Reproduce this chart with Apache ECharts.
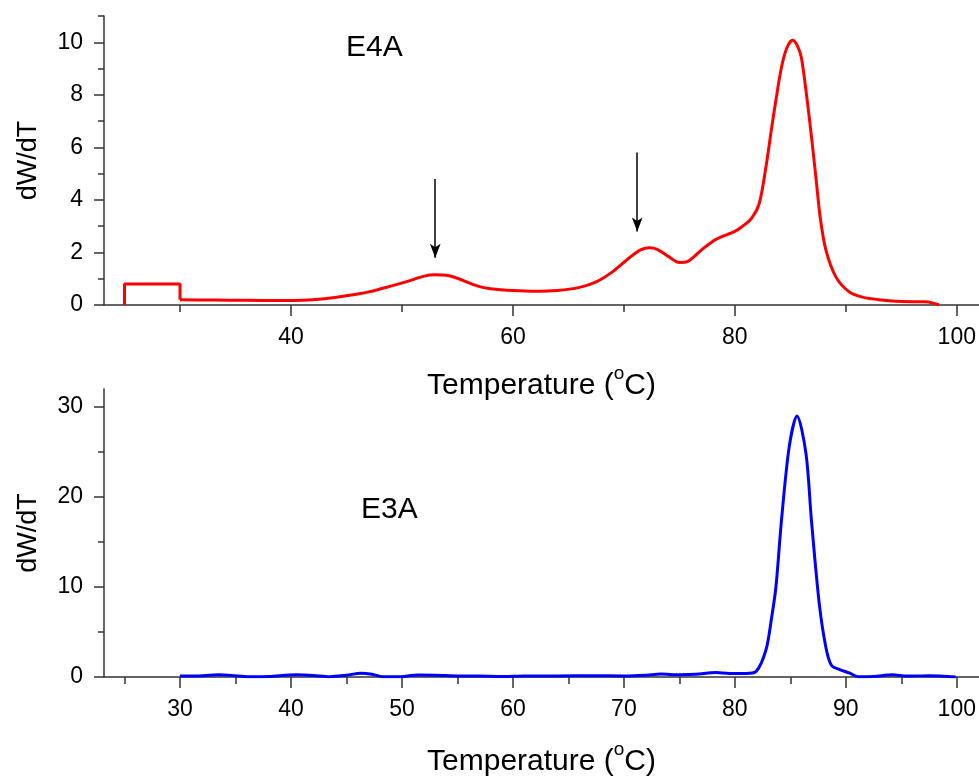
<!DOCTYPE html>
<html>
<head>
<meta charset="utf-8">
<script src="https://cdn.jsdelivr.net/npm/echarts@6/dist/echarts.min.js"></script>
<style>
  html, body { margin: 0; padding: 0; background: #fff; }
  #chart { width: 979px; height: 778px; }
</style>
</head>
<body>
<div id="chart"></div>
<script>
// E4A (top): step at start, then the smooth curve
const e4aStep = [[25, 0], [25, 0.8], [30, 0.8], [30, 0.2]]
const e4aCurve = [
  [30, 0.2], [33, 0.19], [36, 0.18], [39, 0.17], [41, 0.18], [43, 0.24], [45, 0.35],
  [47, 0.5], [49, 0.72], [50.5, 0.9], [52, 1.1], [53, 1.15], [54, 1.13], [55, 1.02],
  [56, 0.85], [57, 0.7], [58, 0.62], [60, 0.55], [62, 0.52], [64, 0.55], [66, 0.67],
  [67.5, 0.88], [69, 1.27], [70.5, 1.8], [71.5, 2.1], [72.3, 2.18], [73, 2.12],
  [74, 1.85], [75, 1.62], [75.7, 1.65], [77, 2.1], [78.3, 2.5], [80, 2.8], [80.6, 2.97],
  [81.5, 3.3], [82.2, 3.87], [82.8, 5.25], [83.3, 6.7], [83.7, 7.8], [84.2, 9.05],
  [84.7, 9.8], [85.2, 10.08], [85.6, 9.9], [86, 9.4], [86.7, 7.15], [87.3, 4.87],
  [87.7, 3.3], [88.2, 2.1], [89.1, 1.07], [90.3, 0.5], [91.5, 0.3], [93.2, 0.19],
  [95, 0.13], [97, 0.12], [97.8, 0.08], [98.4, 0]
]
// E3A (bottom)
const e3aCurve = [
  [30, 0.1], [31.5, 0.12], [33.5, 0.25], [35, 0.15], [36.5, 0.02], [38, 0.05],
  [40.5, 0.25], [42, 0.18], [43.5, 0.03], [45, 0.2], [46.3, 0.42], [47.3, 0.3],
  [48.3, 0.02], [49.5, 0.02], [51.5, 0.22], [53, 0.2], [55, 0.12], [57, 0.1], [59, 0.05],
  [61, 0.1], [64, 0.12], [67, 0.15], [70, 0.12], [72, 0.2], [73.3, 0.32], [75, 0.25],
  [76.5, 0.3], [78.3, 0.5], [79.5, 0.4], [81, 0.4], [81.9, 0.6], [82.8, 3.0], [83.3, 6.5],
  [83.7, 10], [84.2, 17.4], [84.9, 25.6], [85.6, 29.0], [86.4, 24.9], [86.9, 17.4],
  [87.6, 8.2], [88.2, 3.3], [88.7, 1.3], [89.5, 0.8], [90.3, 0.45], [91.2, 0.02],
  [92.5, 0.05], [94.2, 0.25], [95.5, 0.1], [97.5, 0.15], [99.9, 0]
]
// arrows on E4A: [x, yStart, yEnd]
const e4aArrows = [[53, 4.8, 1.8], [71.2, 5.8, 2.8]]

// tick positions
const topXLabels = [40, 60, 80, 100]
const topXMinor = [30, 50, 70, 90]
const topYLabels = [0, 2, 4, 6, 8, 10]
const topYMinor = [1, 3, 5, 7, 9, 11]
const botXLabels = [30, 40, 50, 60, 70, 80, 90, 100]
const botXMinor = [25, 35, 45, 55, 65, 75, 85, 95]
const botYLabels = [0, 10, 20, 30]
const botYMinor = [5, 15, 25]

const xMin = 23.15, xMax = 102
const FONT = 'Liberation Sans, Arial, sans-serif'
const axisColor = '#333'

// superscript "o" via rich text: tall line for the main text, small token pinned to the top
const tempName = {
  name: '{a|Temperature (}{s|o}{a|C)}',
  nameLocation: 'middle',
  nameTextStyle: {
    rich: {
      a: { fontSize: 30, lineHeight: 44, fontFamily: FONT, color: '#000' },
      s: { fontSize: 19, lineHeight: 28, fontFamily: FONT, color: '#000', verticalAlign: 'top' }
    }
  }
}

function mainX(grid, labels, gap) {
  return Object.assign({}, tempName, {
    gridIndex: grid, type: 'value', min: xMin, max: xMax, position: 'bottom',
    nameGap: gap,
    splitLine: { show: false },
    axisLine: { lineStyle: { color: axisColor, width: 1.5 } },
    axisTick: { length: 11, customValues: labels, lineStyle: { color: axisColor, width: 1.5 } },
    axisLabel: { customValues: labels, margin: 21, fontSize: 23, fontFamily: FONT, color: '#000' }
  })
}
function minorX(grid, ticks) {
  return {
    gridIndex: grid, type: 'value', min: xMin, max: xMax, position: 'bottom',
    splitLine: { show: false },
    axisLine: { show: false },
    axisTick: { length: 7, customValues: ticks, lineStyle: { color: axisColor, width: 1.5 } },
    axisLabel: { show: false }
  }
}
function mainY(grid, max, labels) {
  return {
    gridIndex: grid, type: 'value', min: 0, max: max, position: 'left',
    name: 'dW/dT', nameLocation: 'middle', nameGap: 62,
    nameTextStyle: { fontSize: 27, fontFamily: FONT, color: '#000' },
    splitLine: { show: false },
    axisLine: { show: true, lineStyle: { color: axisColor, width: 1.5 } },
    axisTick: { show: true, length: 10, customValues: labels, lineStyle: { color: axisColor, width: 1.5 } },
    axisLabel: { customValues: labels, margin: 21, fontSize: 23, fontFamily: FONT, color: '#000' }
  }
}
function minorY(grid, max, ticks) {
  return {
    gridIndex: grid, type: 'value', min: 0, max: max, position: 'left',
    splitLine: { show: false },
    axisLine: { show: false },
    axisTick: { show: true, length: 6, customValues: ticks, lineStyle: { color: axisColor, width: 1.5 } },
    axisLabel: { show: false }
  }
}

const chart = echarts.init(document.getElementById('chart'))
chart.setOption({
  animation: false,
  backgroundColor: '#fff',
  grid: [
    { left: 104, right: 0, top: 16, height: 289 },
    { left: 104, right: 0, top: 389, height: 288 }
  ],
  xAxis: [
    mainX(0, topXLabels, 59), minorX(0, topXMinor),
    mainX(1, botXLabels, 63), minorX(1, botXMinor)
  ],
  yAxis: [
    mainY(0, 11, topYLabels), minorY(0, 11, topYMinor),
    mainY(1, 32, botYLabels), minorY(1, 32, botYMinor)
  ],
  graphic: [
    { type: 'text', left: 346, top: 33, style: { text: 'E4A', fontSize: 30, fontFamily: FONT, fill: '#000' } },
    { type: 'text', left: 361, top: 495, style: { text: 'E3A', fontSize: 30, fontFamily: FONT, fill: '#000' } }
  ],
  series: [
    {
      type: 'line', xAxisIndex: 0, yAxisIndex: 0, data: e4aStep, showSymbol: false,
      lineStyle: { color: '#ff0000', width: 3 }
    },
    {
      type: 'line', xAxisIndex: 0, yAxisIndex: 0, data: e4aCurve, showSymbol: false, smooth: 0.3,
      lineStyle: { color: '#ff0000', width: 3 },
      markLine: {
        silent: true,
        symbol: ['none', 'arrow'],
        symbolSize: [8, 14],
        label: { show: false },
        lineStyle: { color: '#000', width: 1.5, type: 'solid' },
        data: e4aArrows.map(a => [{ coord: [a[0], a[1]] }, { coord: [a[0], a[2]] }])
      }
    },
    {
      type: 'line', xAxisIndex: 2, yAxisIndex: 2, data: e3aCurve, showSymbol: false, smooth: 0.3,
      lineStyle: { color: '#0000ff', width: 3 }
    }
  ]
})
</script>
</body>
</html>
